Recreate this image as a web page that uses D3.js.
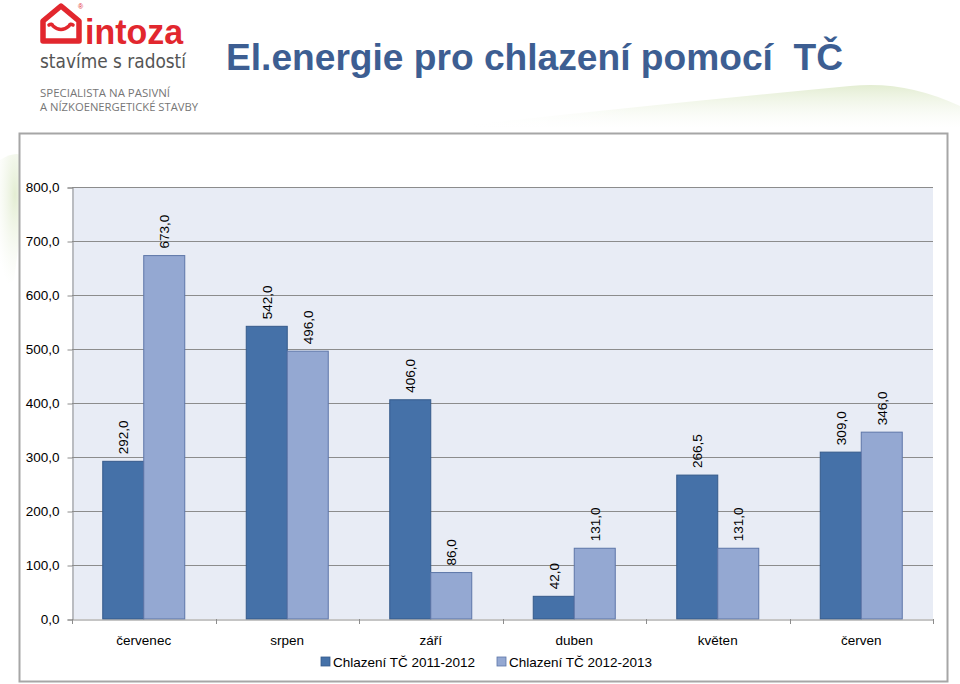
<!DOCTYPE html>
<html>
<head>
<meta charset="utf-8">
<script src="https://cdn.jsdelivr.net/npm/d3@7"></script>
<style>
  html, body { margin: 0; padding: 0; background: #fff; }
  svg { display: block; font-family: "Liberation Sans", Arial, sans-serif; }
</style>
</head>
<body>
<svg id="chart" width="960" height="684"></svg>
<script>
const categories = ["červenec", "srpen", "září", "duben", "květen", "červen"];
const seriesNames = ["Chlazení TČ 2011-2012", "Chlazení TČ 2012-2013"];
const series2011 = [292.0, 542.0, 406.0, 42.0, 266.5, 309.0];
const series2012 = [673.0, 496.0, 86.0, 131.0, 131.0, 346.0];
const yTicks = [0, 100, 200, 300, 400, 500, 600, 700, 800];
const titleText = "El.energie pro chlazení pomocí  TČ";

(function () {
const colors = ["#4571A8", "#94A8D2"];
const strokes = ["#355A8A", "#5D76A8"];

const svg = d3.select("#chart");
const locale = d3.formatLocale({ decimal: ",", thousands: " ", grouping: [3], currency: ["", ""] });
const fmt = locale.format(".1f");

// background pale green swooshes
const defs = svg.append("defs");
const g1 = defs.append("linearGradient").attr("id", "sw1").attr("x1", "0").attr("x2", "0").attr("y1", "0").attr("y2", "1");
g1.append("stop").attr("offset", "0").attr("stop-color", "#e3edd2").attr("stop-opacity", 1);
g1.append("stop").attr("offset", "1").attr("stop-color", "#f4f8ee").attr("stop-opacity", 0);
const g1h = defs.append("linearGradient").attr("id", "sw1h").attr("x1", "0").attr("x2", "1").attr("y1", "0").attr("y2", "0");
g1h.append("stop").attr("offset", "0").attr("stop-color", "#fff").attr("stop-opacity", 1);
g1h.append("stop").attr("offset", "0.35").attr("stop-color", "#fff").attr("stop-opacity", 0);
svg.append("path")
  .attr("d", "M460,126 Q660,104 850,86 Q905,80 960,106 L960,128 L460,128 Z")
  .attr("fill", "url(#sw1)");
svg.append("rect").attr("x", 460).attr("y", 80).attr("width", 500).attr("height", 50).attr("fill", "url(#sw1h)");
const g2 = defs.append("radialGradient").attr("id", "sw2").attr("cx", "0.5").attr("cy", "0.3").attr("r", "0.7");
g2.append("stop").attr("offset", "0").attr("stop-color", "#e3edd2").attr("stop-opacity", 1);
g2.append("stop").attr("offset", "1").attr("stop-color", "#f4f8ee").attr("stop-opacity", 0);
svg.append("path")
  .attr("d", "M0,160 Q18,148 30,160 L14,280 L0,290 Z")
  .attr("fill", "url(#sw2)");

// Logo
const logo = svg.append("g");
logo.append("path")
  .attr("d", "M43,41 L43,21 L61,6 L79,21 L79,41 Z")
  .attr("fill", "none").attr("stroke", "#E2272E").attr("stroke-width", 5.5).attr("stroke-linejoin", "round");
logo.append("path")
  .attr("d", "M49,25 Q52,23 53,26 Q61,33 69,26 Q70,23 73,25")
  .attr("fill", "none").attr("stroke", "#E2272E").attr("stroke-width", 3.5).attr("stroke-linecap", "round");
logo.append("text").attr("x", 78).attr("y", 9).attr("font-size", 7).attr("fill", "#E2272E").text("®");
logo.append("text").attr("x", 85).attr("y", 44)
  .attr("font-size", 35).attr("font-weight", "bold").attr("fill", "#E2272E")
  .attr("textLength", 98).attr("lengthAdjust", "spacingAndGlyphs").text("intoza");
logo.append("text").attr("x", 40).attr("y", 68)
  .attr("font-size", 19).attr("fill", "#555")
  .attr("font-family", "'DejaVu Sans', sans-serif").attr("textLength", 146).attr("lengthAdjust", "spacingAndGlyphs")
  .text("stavíme s radostí");
logo.append("text").attr("x", 40).attr("y", 97)
  .attr("font-size", 10.5).attr("fill", "#767676").attr("font-family", "'Open Sans', sans-serif")
  .attr("textLength", 130).attr("lengthAdjust", "spacingAndGlyphs")
  .text("SPECIALISTA NA PASIVNÍ");
logo.append("text").attr("x", 40).attr("y", 111)
  .attr("font-size", 10.5).attr("fill", "#767676").attr("font-family", "'Open Sans', sans-serif")
  .attr("textLength", 158).attr("lengthAdjust", "spacingAndGlyphs")
  .text("A NÍZKOENERGETICKÉ STAVBY");

// Title
svg.append("text")
  .attr("x", 226).attr("y", 70)
  .attr("font-size", 37).attr("font-weight", "bold").attr("fill", "#3D5E92")
  .attr("textLength", 617).attr("lengthAdjust", "spacingAndGlyphs")
  .style("white-space", "pre")
  .text(titleText);

// Chart outer box
svg.append("rect")
  .attr("x", 19.5).attr("y", 133.5).attr("width", 928).attr("height", 548)
  .attr("fill", "#fff").attr("stroke", "#A6A6A6").attr("stroke-width", 2);

// Plot area
const pLeft = 72, pRight = 933, pTop = 187, pBottom = 619;
const x = d3.scaleBand().domain(categories).range([pLeft, pRight]).padding(0);
const y = d3.scaleLinear().domain([0, 800]).range([pBottom, pTop]);

svg.append("rect")
  .attr("x", pLeft).attr("y", pTop).attr("width", pRight - pLeft).attr("height", pBottom - pTop)
  .attr("fill", "#E8ECF5");

// gridlines
svg.append("g").selectAll("line").data(yTicks.filter(d => d > 0)).join("line")
  .attr("x1", pLeft).attr("x2", pRight)
  .attr("y1", d => Math.round(y(d)) + 0.5).attr("y2", d => Math.round(y(d)) + 0.5)
  .attr("stroke", "#8C8C8C").attr("stroke-width", 1);

// y axis
const yAxis = d3.axisLeft(y).tickValues(yTicks).tickFormat(fmt).tickSize(5).tickPadding(8);
const yg = svg.append("g").attr("transform", `translate(${pLeft + 0.5},0.5)`).call(yAxis);
yg.select(".domain").attr("stroke", "#8C8C8C");
yg.selectAll(".tick line").attr("stroke", "#8C8C8C");
yg.selectAll(".tick text").attr("font-size", 13.5).attr("fill", "#000")
  .attr("font-family", "'Liberation Sans', Arial, sans-serif");

// bars
const bw = x.bandwidth() / 3.5;
const data = categories.map((c, i) => ({ c, v: [series2011[i], series2012[i]] }));
const grp = svg.append("g").selectAll("g").data(data).join("g")
  .attr("transform", d => `translate(${x(d.c) + bw * 0.75},0)`);
[0, 1].forEach(s => {
  grp.append("rect")
    .attr("x", s * bw).attr("width", bw)
    .attr("y", d => y(d.v[s])).attr("height", d => pBottom - y(d.v[s]))
    .attr("fill", colors[s]).attr("stroke", strokes[s]).attr("stroke-width", 1);
  grp.append("text")
    .attr("transform", d => `translate(${s * bw + bw / 2 + 5},${y(d.v[s]) - 7}) rotate(-90)`)
    .attr("font-size", 13.5).attr("fill", "#000")
    .text(d => fmt(d.v[s]));
});

// x axis
const xAxis = d3.axisBottom(x).tickSize(0).tickPadding(16);
const xg = svg.append("g").attr("transform", `translate(0,${pBottom + 0.5})`).call(xAxis);
xg.select(".domain").attr("stroke", "#8C8C8C");
xg.selectAll(".tick text").attr("font-size", 13.5).attr("fill", "#000")
  .attr("font-family", "'Liberation Sans', Arial, sans-serif");
svg.append("g").selectAll("line").data(categories.concat(["_end"])).join("line")
  .attr("x1", (d, i) => Math.round(pLeft + i * x.bandwidth()) + 0.5)
  .attr("x2", (d, i) => Math.round(pLeft + i * x.bandwidth()) + 0.5)
  .attr("y1", pBottom).attr("y2", pBottom + 5)
  .attr("stroke", "#8C8C8C");

// legend
const legendX = [321, 497];
const lg = svg.append("g").selectAll("g").data(seriesNames).join("g")
  .attr("transform", (d, i) => `translate(${legendX[i]},657)`);
lg.append("rect").attr("width", 9).attr("height", 9)
  .attr("fill", (d, i) => colors[i]).attr("stroke", (d, i) => strokes[i]).attr("stroke-width", 0.8);
lg.append("text").attr("x", 12).attr("y", 9.5)
  .attr("font-size", 13.5).attr("fill", "#000").text(d => d);
})();
</script>
</body>
</html>
